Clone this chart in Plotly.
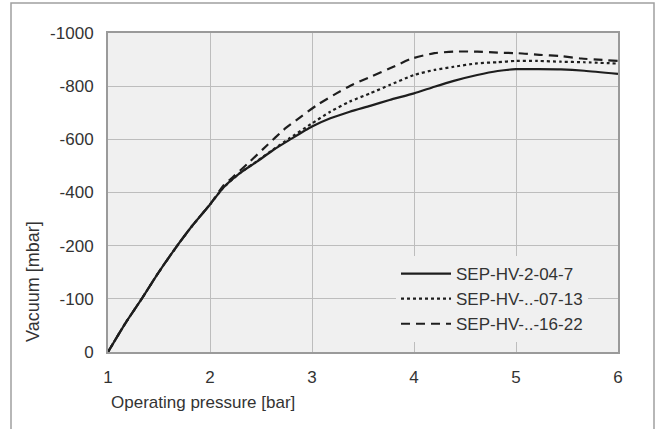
import numpy as np
import plotly.graph_objects as go

# ---- data (vacuum in mbar) ----
y_tick_values = [0, -100, -200, -400, -600, -800, -1000]
y_tick_labels = ["0", "-100", "-200", "-400", "-600", "-800", "-1000"]
x_tick_values = [1, 2, 3, 4, 5, 6]

series_names = ["SEP-HV-2-04-7", "SEP-HV-..-07-13", "SEP-HV-..-16-22"]

x_solid = [1.0, 1.17, 1.33, 1.49, 1.66, 1.82, 2.0, 2.13, 2.29, 2.46, 2.62, 2.78, 3.0,
           3.18, 3.37, 3.57, 3.76, 4.0, 4.2, 4.39, 4.62, 4.82, 5.0, 5.21, 5.44, 5.67, 6.0]
v_solid = [0, -54, -100, -148, -195, -272, -355, -418, -472, -516, -560, -598, -648,
           -679, -704, -726, -748, -773, -798, -820, -842, -857, -864, -864, -863, -858, -846]

x_dotted = [1.0, 1.17, 1.33, 1.49, 1.66, 1.82, 2.0, 2.13, 2.29, 2.46, 2.62, 2.78, 3.0,
            3.18, 3.37, 3.57, 3.76, 4.0, 4.2, 4.39, 4.62, 4.82, 5.0, 5.21, 5.44, 5.67, 6.0]
v_dotted = [0, -54, -100, -148, -195, -272, -355, -418, -472, -518, -562, -604, -660,
            -704, -742, -773, -804, -842, -861, -873, -886, -890, -895, -895, -892, -890, -885]

x_dashed = [1.0, 1.17, 1.33, 1.49, 1.66, 1.82, 2.0, 2.13, 2.23, 2.39, 2.56, 2.72, 2.88,
            3.05, 3.24, 3.41, 3.58, 3.77, 3.98, 4.2, 4.39, 4.62, 4.82, 5.02, 5.23, 5.44, 5.64, 6.0]
v_dashed = [0, -54, -100, -148, -195, -272, -355, -425, -460, -516, -578, -635, -682,
            -729, -773, -808, -836, -868, -904, -924, -930, -930, -926, -924, -918, -913, -904, -895]

# The vacuum axis of the reference is evenly spaced by tick (0,-100,-200,-400,...):
# map each vacuum value to its place on that tick scale.
tick_abs = [-v for v in y_tick_values]
tick_pos = list(range(len(y_tick_values)))


def to_axis(values):
    return np.interp(-np.asarray(values, dtype=float), tick_abs, tick_pos)


line_col = "#1e1e1e"
font_fam = "Liberation Sans, Arial, sans-serif"
text_col = "#333333"
fs = 17

fig = go.Figure()
for name, xs, vs, dash in [
    (series_names[0], x_solid, v_solid, "solid"),
    (series_names[1], x_dotted, v_dotted, "dot"),
    (series_names[2], x_dashed, v_dashed, "9px,6px"),
]:
    fig.add_trace(go.Scatter(
        x=xs, y=to_axis(vs), mode="lines", name=name,
        line=dict(color=line_col, width=2.2, dash=dash, shape="spline", smoothing=0.6),
    ))

L, R, T, B = 108, 41, 33, 77
W, H = 659, 429
pw, ph = W - L - R, H - T - B


def px_x(p):
    return (p - L) / pw


def px_y(p):
    return (H - B - p) / ph


fig.update_layout(
    width=W, height=H,
    margin=dict(l=L, r=R, t=T, b=B, pad=0),
    paper_bgcolor="white",
    plot_bgcolor="#f0f0f0",
    font=dict(family=font_fam, size=fs, color=text_col),
    showlegend=True,
    legend=dict(
        x=px_x(396), y=px_y(256), xanchor="left", yanchor="top",
        bgcolor="#f0f0f0", borderwidth=0,
        font=dict(family=font_fam, size=fs, color=text_col),
        tracegroupgap=0, itemwidth=50,
    ),
    xaxis=dict(
        range=[1, 6], tickvals=x_tick_values, ticktext=[str(v) for v in x_tick_values],
        showgrid=True, gridcolor="#bdbdbd", gridwidth=1,
        showline=True, linecolor="#9a9a9a", linewidth=2, mirror=True,
        ticks="outside", ticklen=9, tickcolor="rgba(0,0,0,0)",
        zeroline=False,
    ),
    yaxis=dict(
        range=[0, len(y_tick_values) - 1], tickvals=tick_pos, ticktext=y_tick_labels,
        showgrid=True, gridcolor="#bdbdbd", gridwidth=1,
        showline=True, linecolor="#9a9a9a", linewidth=2, mirror=True,
        ticks="outside", ticklen=9, tickcolor="rgba(0,0,0,0)",
        zeroline=False,
    ),
    shapes=[dict(
        type="rect", xref="paper", yref="paper",
        x0=px_x(11), x1=px_x(654), y0=px_y(440), y1=px_y(3),
        line=dict(color="#a0a0a0", width=1.5), fillcolor="rgba(0,0,0,0)", layer="below",
    )],
    annotations=[
        dict(text="Operating pressure [bar]", xref="paper", yref="paper",
             x=px_x(109), y=px_y(402), xanchor="left", yanchor="middle",
             showarrow=False, font=dict(family=font_fam, size=fs, color=text_col)),
        dict(text="Vacuum [mbar]", xref="paper", yref="paper",
             x=px_x(33), y=px_y(282), xanchor="center", yanchor="middle", textangle=-90,
             showarrow=False, font=dict(family=font_fam, size=fs + 1, color=text_col)),
    ],
)

fig.write_html("out.html", config={"displayModeBar": False},
               post_script="document.body.style.margin='0px';")
